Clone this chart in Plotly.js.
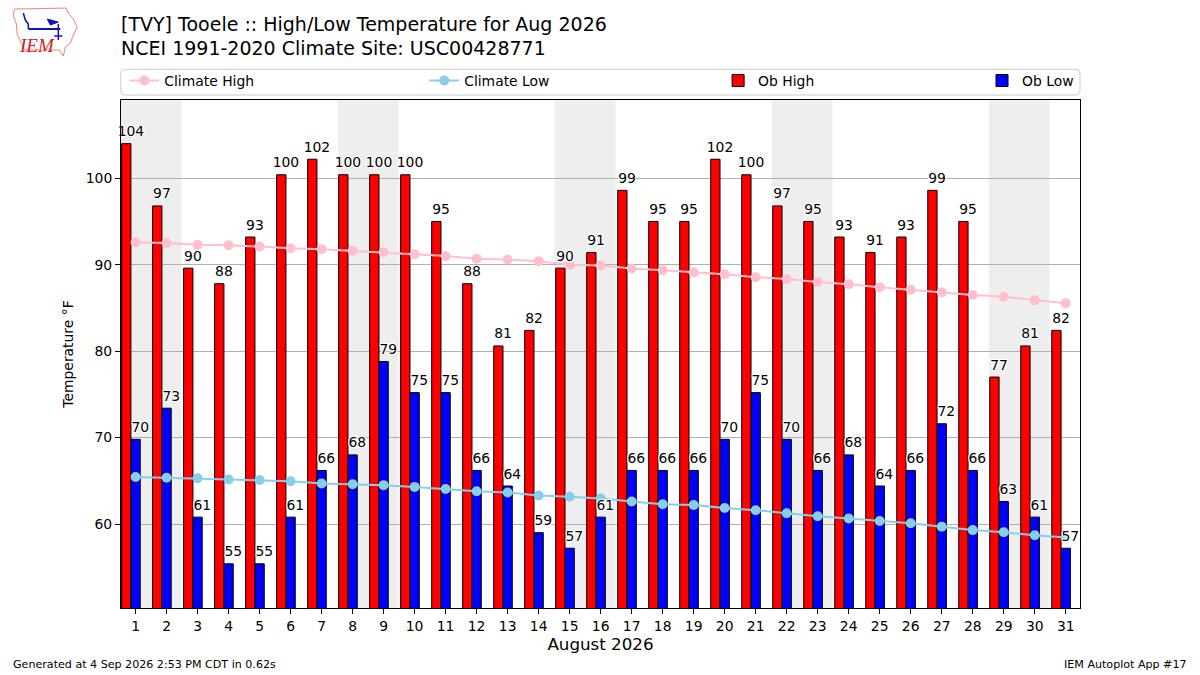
<!DOCTYPE html>
<html>
<head>
<meta charset="utf-8">
<script src="https://cdn.plot.ly/plotly-3.0.1.min.js"></script>
<style>html,body{margin:0;padding:0;background:#fff}#chart{width:1200px;height:675px}</style>
</head>
<body>
<div id="chart"></div>
<script>
// ---------------- data ----------------
const days = [1,2,3,4,5,6,7,8,9,10,11,12,13,14,15,16,17,18,19,20,21,22,23,24,25,26,27,28,29,30,31];
const obHigh = [104, 96.8, 89.6, 87.8, 93.2, 100.4, 102.2, 100.4, 100.4, 100.4, 95, 87.8, 80.6, 82.4, 89.6, 91.4,
                98.6, 95, 95, 102.2, 100.4, 96.8, 95, 93.2, 91.4, 93.2, 98.6, 95, 77, 80.6, 82.4];
const obLow = [69.8, 73.4, 60.8, 55.4, 55.4, 60.8, 66.2, 68, 78.8, 75.2, 75.2, 66.2, 64.4, 59, 57.2, 60.8,
               66.2, 66.2, 66.2, 69.8, 75.2, 69.8, 66.2, 68, 64.4, 66.2, 71.6, 66.2, 62.6, 60.8, 57.2];
const climHigh = [92.6, 92.5, 92.3, 92.25, 92.1, 91.9, 91.8, 91.6, 91.45, 91.2, 91.0, 90.7, 90.6, 90.4, 90.0, 89.9,
                  89.55, 89.35, 89.1, 88.9, 88.55, 88.35, 88.0, 87.75, 87.4, 87.1, 86.8, 86.5, 86.3, 85.9, 85.55];
const climLow = [65.45, 65.35, 65.3, 65.15, 65.1, 64.95, 64.7, 64.6, 64.5, 64.3, 64.05, 63.8, 63.65, 63.3, 63.15, 62.95,
                 62.6, 62.3, 62.2, 61.85, 61.6, 61.25, 60.9, 60.65, 60.35, 60.1, 59.7, 59.3, 59.05, 58.7, 58.45];
const weekendStarts = [1, 8, 15, 22, 29];
const yTickVals = [60, 70, 80, 90, 100];
const xTickLabels = days.map(String);
const seriesNames = ["Climate High", "Climate Low", "Ob High", "Ob Low"];
const titleLine1 = "[TVY] Tooele :: High/Low Temperature for Aug 2026";
const titleLine2 = "NCEI 1991-2020 Climate Site: USC00428771";
const xTitle = "August 2026";
const yTitle = "Temperature °F";
const footLeft = "Generated at 4 Sep 2026 2:53 PM CDT in 0.62s";
const footRight = "IEM Autoplot App #17";

// ---------------- geometry ----------------
const W = 1200, H = 675;
const L = 120.7, R = 1080, T = 100, B = 608.3;
const Y_RANGE = [50.29, 109.05];
const px = x => (x - L) / (R - L);
const py = y => (B - y) / (B - T);
const FONT = "DejaVu Sans, sans-serif";
// lift bar labels a few pixels above the bar tops (converted into axis units)
const labelLift = 4 * (Y_RANGE[1] - Y_RANGE[0]) / (B - T);

function pathFrom(points, close) {
  let s = points.map((p, i) => (i ? "L" : "M") + px(p[0]).toFixed(5) + "," + py(p[1]).toFixed(5)).join(" ");
  return close ? s + " Z" : s;
}

// ---------------- traces ----------------
const labelFont = {family: FONT, size: 13.9, color: "#000",
  shadow: "1px 1px 0 #fff, -1px -1px 0 #fff, 1px -1px 0 #fff, -1px 1px 0 #fff"};

const traces = [
  {type: "bar", x: days, y: obHigh, name: seriesNames[2], legend: "legend3",
   offset: -0.45, width: 0.3, marker: {color: "#ff0000", line: {color: "#000", width: 1}}, hoverinfo: "x+y"},
  {type: "bar", x: days, y: obLow, name: seriesNames[3], legend: "legend4",
   offset: -0.15, width: 0.3, marker: {color: "#0000ff", line: {color: "#000", width: 1}}, hoverinfo: "x+y"},
  {type: "scatter", mode: "lines+markers", x: days, y: climHigh, name: seriesNames[0], legend: "legend",
   line: {color: "#ffc0cb", width: 2}, marker: {color: "#ffc0cb", size: 10}},
  {type: "scatter", mode: "lines+markers", x: days, y: climLow, name: seriesNames[1], legend: "legend2",
   line: {color: "#87ceeb", width: 2}, marker: {color: "#87ceeb", size: 10}},
  {type: "scatter", mode: "text", x: days.map(d => d - 0.15), y: obHigh.map(v => v + labelLift),
   text: obHigh.map(v => String(Math.round(v))),
   textposition: "top center", textfont: labelFont, showlegend: false, hoverinfo: "skip", cliponaxis: false},
  {type: "scatter", mode: "text", x: days.map(d => d + 0.15), y: obLow.map(v => v + labelLift),
   text: obLow.map(v => String(Math.round(v))),
   textposition: "top center", textfont: labelFont, showlegend: false, hoverinfo: "skip", cliponaxis: false}
];

// ---------------- shapes ----------------
const shapes = weekendStarts.map(d => ({
  type: "rect", xref: "x", yref: "paper", x0: d - 0.48, x1: d + 1.48, y0: 0, y1: 1,
  fillcolor: "#eeeeee", line: {width: 0}, layer: "below"
}));

// legend frame (rounded)
(function () {
  const x0 = 120.5, x1 = 1080, y0 = 69.3, y1 = 95, r = 4;
  const P = (x, y) => px(x).toFixed(5) + "," + py(y).toFixed(5);
  const path = "M" + P(x0 + r, y0) + " L" + P(x1 - r, y0) + " Q" + P(x1, y0) + " " + P(x1, y0 + r) +
    " L" + P(x1, y1 - r) + " Q" + P(x1, y1) + " " + P(x1 - r, y1) +
    " L" + P(x0 + r, y1) + " Q" + P(x0, y1) + " " + P(x0, y1 - r) +
    " L" + P(x0, y0 + r) + " Q" + P(x0, y0) + " " + P(x0 + r, y0) + " Z";
  shapes.push({type: "path", xref: "paper", yref: "paper", path: path,
    fillcolor: "rgba(255,255,255,0.8)", line: {color: "#cccccc", width: 1}, layer: "above"});
})();

// logo: state outline + vane
shapes.push({type: "path", xref: "paper", yref: "paper", layer: "above",
  path: pathFrom([[14,9],[66,8],[68,13],[73,19],[77,27],[73,35],[70,43],[65,47],[63,56],[59,50],[24,50],[21,43],[17,35],[16,24],[13,16]], true),
  line: {color: "#f08080", width: 1}, fillcolor: "rgba(0,0,0,0)"});
shapes.push({type: "path", xref: "paper", yref: "paper", layer: "above",
  path: pathFrom([[28,29],[60,29]], false), line: {color: "#1010c0", width: 2}});
shapes.push({type: "path", xref: "paper", yref: "paper", layer: "above",
  path: pathFrom([[47,19],[58,22],[50,25]], true), line: {color: "#1010c0", width: 1}, fillcolor: "#1010c0"});
shapes.push({type: "path", xref: "paper", yref: "paper", layer: "above",
  path: pathFrom([[58,24],[58,40]], false), line: {color: "#1010c0", width: 1.5}});
shapes.push({type: "path", xref: "paper", yref: "paper", layer: "above",
  path: pathFrom([[23,13],[25,20],[28,24],[28,29]], false), line: {color: "#1010c0", width: 1.5}});
shapes.push({type: "path", xref: "paper", yref: "paper", layer: "above",
  path: pathFrom([[54,36],[62,36]], false), line: {color: "#1010c0", width: 1.5}});

// ---------------- annotations ----------------
const annotations = [
  {text: titleLine1, xref: "paper", yref: "paper", x: px(119), y: py(24), xanchor: "left", yanchor: "middle",
   showarrow: false, font: {family: FONT, size: 19, color: "#000"}},
  {text: titleLine2, xref: "paper", yref: "paper", x: px(119), y: py(48), xanchor: "left", yanchor: "middle",
   showarrow: false, font: {family: FONT, size: 19, color: "#000"}},
  {text: footLeft, xref: "paper", yref: "paper", x: px(11), y: py(665), xanchor: "left", yanchor: "middle",
   showarrow: false, font: {family: FONT, size: 11.1, color: "#000"}},
  {text: footRight, xref: "paper", yref: "paper", x: px(1189), y: py(665), xanchor: "right", yanchor: "middle",
   showarrow: false, font: {family: FONT, size: 11.1, color: "#000"}},
  {text: "<i>IEM</i>", xref: "paper", yref: "paper", x: px(37), y: py(45), xanchor: "center", yanchor: "middle",
   showarrow: false, font: {family: "Liberation Serif, serif", size: 19, color: "#d42020"}}
];

// ---------------- legends ----------------
const legendFont = {family: FONT, size: 13.9, color: "#000"};
function legendAt(textX) {
  return {x: px(textX - 42), y: py(81), xref: "paper", yref: "paper", xanchor: "left", yanchor: "middle",
    orientation: "h", bgcolor: "rgba(0,0,0,0)", borderwidth: 0, font: legendFont};
}

const layout = {
  width: W, height: H,
  margin: {l: L, r: W - R, t: T, b: H - B, pad: 0},
  paper_bgcolor: "#fff", plot_bgcolor: "#fff",
  font: {family: FONT, size: 13.9, color: "#000"},
  barmode: "overlay",
  showlegend: true,
  legend: legendAt(166),
  legend2: legendAt(466),
  legend3: legendAt(760),
  legend4: legendAt(1024),
  xaxis: {
    range: [0.53, 31.46], tickmode: "array", tickvals: days, ticktext: xTickLabels,
    ticks: "outside", ticklen: 5, tickwidth: 1, tickcolor: "#000",
    showline: true, linecolor: "#000", linewidth: 1, mirror: true,
    showgrid: false, zeroline: false,
    tickfont: {family: FONT, size: 13.9, color: "#000"},
    title: {text: xTitle, font: {family: FONT, size: 16.7, color: "#000"}, standoff: 5}
  },
  yaxis: {
    range: Y_RANGE, tickmode: "array", tickvals: yTickVals, ticktext: yTickVals.map(String),
    ticks: "outside", ticklen: 5, tickwidth: 1, tickcolor: "#000",
    showline: true, linecolor: "#000", linewidth: 1, mirror: true,
    showgrid: true, gridcolor: "#b0b0b0", gridwidth: 1, zeroline: false,
    tickfont: {family: FONT, size: 13.9, color: "#000"},
    title: {text: yTitle, font: {family: FONT, size: 13.9, color: "#000"}, standoff: 8}
  },
  shapes: shapes,
  annotations: annotations
};

Plotly.newPlot("chart", traces, layout, {displayModeBar: false, staticPlot: true});
</script>
</body>
</html>
